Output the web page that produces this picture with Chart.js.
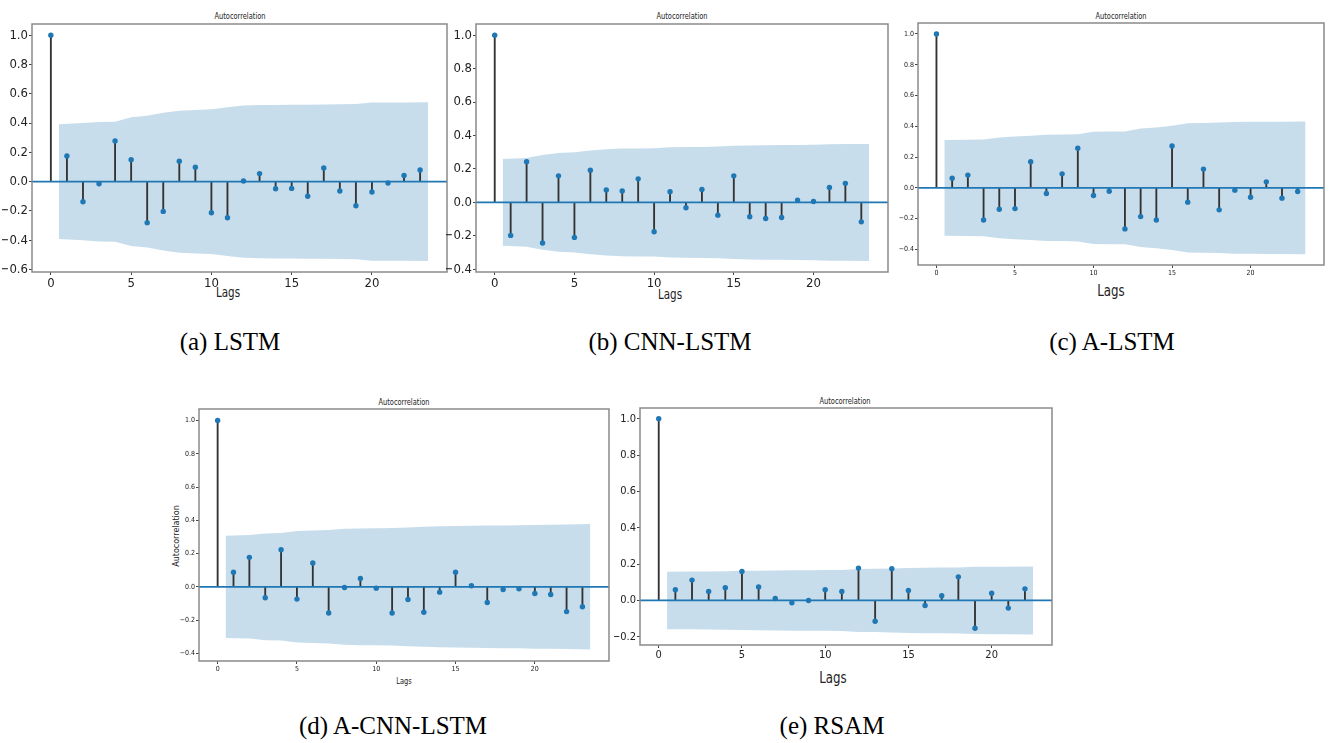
<!DOCTYPE html>
<html>
<head>
<meta charset="utf-8">
<title>Autocorrelation of residuals</title>
<script src="https://cdn.jsdelivr.net/npm/chart.js@4.4.1/dist/chart.umd.min.js"></script>
<style>
  html, body { margin: 0; padding: 0; background: #fff; }
  #page { position: relative; width: 1334px; height: 743px; overflow: hidden; background: #fff; }
  #page canvas { position: absolute; }
  .txt { position: absolute; transform: translate(-50%, -50%) scaleX(0.82); white-space: nowrap; line-height: 1; color: #222;
         font-family: 'Liberation Sans Narrow', 'DejaVu Sans Condensed', 'Liberation Sans', sans-serif; }
  .cap { position: absolute; white-space: nowrap; line-height: 1; color: #000; font-size: 25px;
         font-family: 'Liberation Serif', 'Times New Roman', 'Tinos', serif;
         transform: translate(-50%, -50%); }
</style>
</head>
<body>
<div id="page">
  <!-- panel titles -->
  <div class="txt" style="left:239.5px; top:16.3px; font-size:9px;">Autocorrelation</div>
  <div class="txt" style="left:681.7px; top:16.3px; font-size:9px;">Autocorrelation</div>
  <div class="txt" style="left:1121px; top:15.7px; font-size:9px;">Autocorrelation</div>
  <div class="txt" style="left:404px; top:401.7px; font-size:9px;">Autocorrelation</div>
  <div class="txt" style="left:845px; top:401px; font-size:9px;">Autocorrelation</div>

  <!-- x labels -->
  <div class="txt" style="left:228px; top:292.2px; font-size:14px;">Lags</div>
  <div class="txt" style="left:669.7px; top:293.5px; font-size:14px;">Lags</div>
  <div class="txt" style="left:1111px; top:290.8px; font-size:16px;">Lags</div>
  <div class="txt" style="left:404px; top:681px; font-size:9px;">Lags</div>
  <div class="txt" style="left:833px; top:677.5px; font-size:16px;">Lags</div>

  <!-- y label of panel d -->
  <div class="txt" style="left:176.7px; top:535.7px; font-size:8px; font-family:'DejaVu Sans', sans-serif; transform: translate(-50%, -50%) rotate(-90deg);">Autocorrelation</div>

  <!-- captions -->
  <div class="cap" style="left:230px; top:341px;">(a) LSTM</div>
  <div class="cap" style="left:670px; top:341px;">(b) CNN-LSTM</div>
  <div class="cap" style="left:1112px; top:341px;">(c) A-LSTM</div>
  <div class="cap" style="left:393px; top:725px;">(d) A-CNN-LSTM</div>
  <div class="cap" style="left:832px; top:725px;">(e) RSAM</div>
</div>

<script>
// lags and x positions of the confidence band (first/last shifted by half a lag)
const lags24 = [0, 1, 2, 3, 4, 5, 6, 7, 8, 9, 10, 11, 12, 13, 14, 15, 16, 17, 18, 19, 20, 21, 22, 23];
const lags23 = [0, 1, 2, 3, 4, 5, 6, 7, 8, 9, 10, 11, 12, 13, 14, 15, 16, 17, 18, 19, 20, 21, 22];
const bandX24 = [0.5, 2, 3, 4, 5, 6, 7, 8, 9, 10, 11, 12, 13, 14, 15, 16, 17, 18, 19, 20, 21, 22, 23.5];
const bandX23 = [0.5, 2, 3, 4, 5, 6, 7, 8, 9, 10, 11, 12, 13, 14, 15, 16, 17, 18, 19, 20, 21, 22.5];

// (a) LSTM
const acfLstm = [1.0, 0.175, -0.137, -0.014, 0.278, 0.15, -0.28, -0.203, 0.139, 0.098, -0.212, -0.246,
                 0.005, 0.055, -0.048, -0.046, -0.1, 0.093, -0.064, -0.164, -0.071, -0.009, 0.043, 0.08];
const confLstm = [0.392, 0.40, 0.408, 0.41, 0.44, 0.45, 0.47, 0.485, 0.49, 0.494, 0.508, 0.52,
                  0.523, 0.524, 0.525, 0.526, 0.527, 0.528, 0.53, 0.54, 0.54, 0.541, 0.542];

// (b) CNN-LSTM
const acfCnnLstm = [1.0, -0.197, 0.243, -0.243, 0.159, -0.209, 0.193, 0.074, 0.068, 0.141, -0.175, 0.064,
                    -0.032, 0.078, -0.076, 0.159, -0.086, -0.096, -0.09, 0.014, 0.006, 0.09, 0.114, -0.116];
const confCnnLstm = [0.259, 0.265, 0.283, 0.295, 0.30, 0.31, 0.318, 0.322, 0.323, 0.324, 0.33, 0.331,
                     0.332, 0.334, 0.339, 0.341, 0.342, 0.343, 0.344, 0.345, 0.348, 0.349, 0.35];

// (c) A-LSTM
const acfALstm = [1.0, 0.063, 0.083, -0.209, -0.139, -0.135, 0.17, -0.037, 0.091, 0.257, -0.05, -0.022,
                  -0.267, -0.187, -0.209, 0.272, -0.093, 0.122, -0.143, -0.015, -0.061, 0.039, -0.067, -0.024];
const confALstm = [0.311, 0.313, 0.315, 0.328, 0.334, 0.339, 0.345, 0.346, 0.348, 0.365, 0.366, 0.367,
                   0.385, 0.393, 0.404, 0.42, 0.422, 0.424, 0.428, 0.429, 0.43, 0.43, 0.431];

// (d) A-CNN-LSTM
const acfACnnLstm = [1.0, 0.088, 0.177, -0.066, 0.223, -0.074, 0.143, -0.157, -0.004, 0.05, -0.008, -0.157,
                     -0.076, -0.153, -0.032, 0.088, 0.006, -0.094, -0.016, -0.012, -0.04, -0.046, -0.149, -0.12];
const confACnnLstm = [0.307, 0.311, 0.321, 0.323, 0.335, 0.338, 0.341, 0.349, 0.351, 0.352, 0.353, 0.357,
                      0.361, 0.364, 0.365, 0.367, 0.368, 0.369, 0.37, 0.372, 0.373, 0.374, 0.377];

// (e) RSAM
const acfRsam = [1.0, 0.059, 0.112, 0.05, 0.07, 0.16, 0.074, 0.011, -0.013, 0.0, 0.059, 0.05,
                 0.178, -0.114, 0.175, 0.055, -0.028, 0.026, 0.13, -0.153, 0.04, -0.042, 0.064];
const confRsam = [0.158, 0.159, 0.16, 0.161, 0.163, 0.164, 0.165, 0.166, 0.166, 0.167, 0.168,
                  0.173, 0.174, 0.176, 0.179, 0.18, 0.181, 0.182, 0.185, 0.186, 0.186, 0.187];

// tick labels
const xTicks = [0, 5, 10, 15, 20];
const yTicksA = [-0.6, -0.4, -0.2, 0.0, 0.2, 0.4, 0.6, 0.8, 1.0];
const yTicksB = [-0.4, -0.2, 0.0, 0.2, 0.4, 0.6, 0.8, 1.0];
const yTicksE = [-0.2, 0.0, 0.2, 0.4, 0.6, 0.8, 1.0];

const panels = [
  { lags: lags24, acf: acfLstm, bandX: bandX24, conf: confLstm, yTicks: yTicksA,
    xr: [-1.175, 24.675], yr: [-0.617, 1.077], frame: { L: 32, T: 24, R: 447, B: 272 }, tick: 13, yW: 30 },
  { lags: lags24, acf: acfCnnLstm, bandX: bandX24, conf: confCnnLstm, yTicks: yTicksB,
    xr: [-1.175, 24.675], yr: [-0.416, 1.067], frame: { L: 476, T: 24, R: 888, B: 272 }, tick: 13, yW: 30 },
  { lags: lags24, acf: acfALstm, bandX: bandX24, conf: confALstm, yTicks: yTicksB,
    xr: [-1.175, 24.675], yr: [-0.5015, 1.0715], frame: { L: 918, T: 23, R: 1324, B: 265 }, tick: 7, yW: 22 },
  { lags: lags24, acf: acfACnnLstm, bandX: bandX24, conf: confACnnLstm, yTicks: yTicksB,
    xr: [-1.175, 24.675], yr: [-0.446, 1.069], frame: { L: 199, T: 409, R: 609, B: 661 }, tick: 7, yW: 22 },
  { lags: lags23, acf: acfRsam, bandX: bandX23, conf: confRsam, yTicks: yTicksE,
    xr: [-1.125, 23.625], yr: [-0.245, 1.059], frame: { L: 640, T: 408, R: 1052, B: 645 }, tick: 11, yW: 26 }
];

const tickFamily = "'Liberation Sans Narrow', 'DejaVu Sans Condensed', 'Liberation Sans', sans-serif";
const blue = '#1f77b4';

// axes frame on all four sides, like matplotlib spines
const framePlugin = {
  id: 'frame',
  afterDatasetsDraw(chart) {
    const { ctx, chartArea: a } = chart;
    ctx.save();
    ctx.strokeStyle = '#8a8a8a';
    ctx.lineWidth = 1.5;
    ctx.strokeRect(a.left, a.top, a.right - a.left, a.bottom - a.top);
    ctx.restore();
  }
};

function makeAcf(p) {
  const padTop = 10, padRight = 4;
  const xH = p.tick + 10;
  const w = Math.round(p.frame.R - p.frame.L + p.yW + padRight);
  const h = Math.round(p.frame.B - p.frame.T + padTop + xH);

  const canvas = document.createElement('canvas');
  canvas.width = w;
  canvas.height = h;
  canvas.style.left = (p.frame.L - p.yW) + 'px';
  canvas.style.top = (p.frame.T - padTop) + 'px';
  document.getElementById('page').appendChild(canvas);

  const stems = p.lags.map((l, i) => ({ x: l, y: p.acf[i] }));
  const upper = p.bandX.map((x, i) => ({ x: x, y: p.conf[i] }));
  const lower = p.bandX.map((x, i) => ({ x: x, y: -p.conf[i] }));
  const zero = [{ x: p.xr[0], y: 0 }, { x: p.xr[1], y: 0 }];

  const tickFont = { family: tickFamily, size: p.tick };

  return new Chart(canvas, {
    type: 'scatter',
    data: {
      datasets: [
        { type: 'line', data: upper, fill: '+1', backgroundColor: 'rgba(31,119,180,0.25)',
          borderWidth: 0, pointRadius: 0, tension: 0, order: 4 },
        { type: 'line', data: lower, fill: false, borderWidth: 0, pointRadius: 0, tension: 0, order: 4 },
        { type: 'bar', data: stems, backgroundColor: '#333', barThickness: 1.2, order: 3 },
        { type: 'line', data: zero, borderColor: blue, borderWidth: 1.8, pointRadius: 0, order: 2 },
        { type: 'scatter', data: stems, showLine: false, pointRadius: 2.7,
          pointBackgroundColor: blue, pointBorderWidth: 0, order: 1 }
      ]
    },
    options: {
      responsive: false,
      animation: false,
      events: [],
      layout: { padding: { top: padTop, right: padRight, left: 0, bottom: 0 } },
      plugins: { legend: { display: false }, tooltip: { enabled: false }, title: { display: false } },
      scales: {
        x: {
          type: 'linear', min: p.xr[0], max: p.xr[1], offset: false,
          afterBuildTicks: s => { s.ticks = xTicks.map(v => ({ value: v })); },
          afterFit: s => { s.height = xH; },
          grid: { display: true, drawOnChartArea: false, drawTicks: true, tickLength: 3, color: '#444', offset: false },
          border: { display: false },
          ticks: { font: tickFont, color: '#222', padding: 1, maxRotation: 0, autoSkip: false,
                   callback: v => String(v) }
        },
        y: {
          type: 'linear', min: p.yr[0], max: p.yr[1],
          afterBuildTicks: s => { s.ticks = p.yTicks.map(v => ({ value: v })); },
          afterFit: s => { s.width = p.yW; },
          grid: { display: true, drawOnChartArea: false, drawTicks: true, tickLength: 3, color: '#444' },
          border: { display: false },
          ticks: { font: tickFont, color: '#222', padding: 1, autoSkip: false,
                   callback: v => v.toFixed(1).replace('-', '\u2212') }
        }
      }
    },
    plugins: [framePlugin]
  });
}

panels.forEach(makeAcf);
</script>
</body>
</html>
